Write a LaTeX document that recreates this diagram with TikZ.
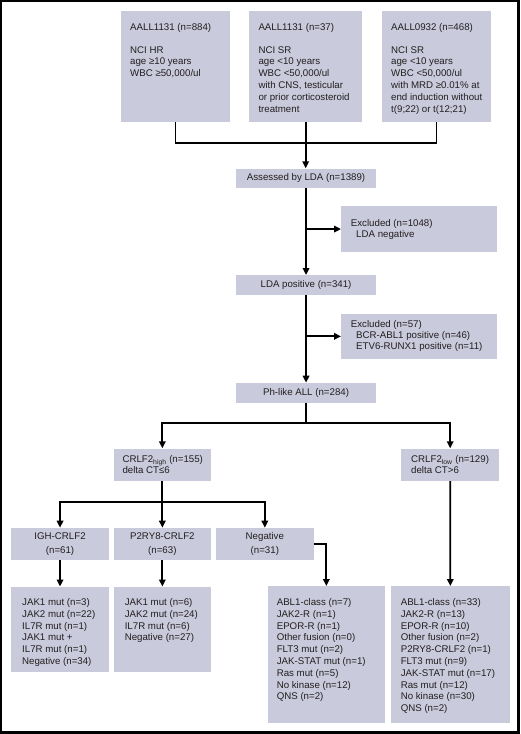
\documentclass[tikz,border=0pt]{standalone}
\usepackage{fontspec}
\setmainfont{Liberation Sans}
\usetikzlibrary{arrows.meta}
\definecolor{boxfill}{RGB}{201,202,219}
\definecolor{txtc}{RGB}{35,31,32}
\begin{document}
\begin{tikzpicture}[x=1pt,y=-1pt,
  box/.style={fill=boxfill, draw=none, inner sep=0pt, anchor=north west, text=txtc,
    font=\fontsize{9.7}{11.8}\selectfont, align=center},
  ctr2/.style={font=\fontsize{9.7}{13.7}\selectfont},
  txt/.style={inner sep=0pt, align=left, text=txtc, font=\fontsize{9.7}{11.8}\selectfont},
  txtex/.style={txt, font=\fontsize{9.7}{11}\selectfont},
  txtcr/.style={txt, font=\fontsize{9.7}{10.8}\selectfont},
  ln/.style={line width=1.8pt, draw=black},
  arr/.style={ln, -{Triangle[length=7pt,width=6.5pt]}}]
\useasboundingbox (0,0) rectangle (520,734);
\fill[white] (0,0) rectangle (520,734);
\draw[line width=2.5pt] (1,1) rectangle (518.5,732.5);

% top boxes
\node[box, minimum width=109.3pt, minimum height=111pt] (b1) at (120.7,10.7) {};
\node[box, minimum width=113pt, minimum height=111pt] (b2) at (249,10.7) {};
\node[box, minimum width=109.3pt, minimum height=111pt] (b3) at (381.7,10.7) {};
\node[txt, anchor=north west] (tb1) at ([shift={(9.3,12.7)}]b1.north west)
  {AALL1131 (n=884)\\[10.7pt]NCI HR\\age ≥10 years\\WBC ≥50,000/ul};
\node[txt, anchor=north west] (tb2) at ([shift={(9.3,12.7)}]b2.north west)
  {AALL1131 (n=37)\\[10.7pt]NCI SR\\age <10 years\\WBC <50,000/ul\\with CNS, testicular\\or prior corticosteroid\\treatment};
\node[txt, anchor=north west] (tb3) at ([shift={(9.3,12.7)}]b3.north west)
  {AALL0932 (n=468)\\[10.7pt]NCI SR\\age <10 years\\WBC <50,000/ul\\with MRD ≥0.01\% at\\end induction without\\t(9;22) or t(12;21)};

% main column
\node[box, minimum width=139.7pt, minimum height=19pt] (assessed) at (236,168.3) {Assessed by LDA (n=1389)};
\node[box, minimum width=155.7pt, minimum height=45.7pt] (ex1) at (341,206) {};
\node[txtex, anchor=west] (tex1) at ([xshift=9.7pt]ex1.west)
  {Excluded (n=1048)\\\hspace*{5.3pt}LDA negative};
\node[box, minimum width=139.7pt, minimum height=20pt] (ldapos) at (236,275) {LDA positive (n=341)};
\node[box, minimum width=155.7pt, minimum height=45.7pt] (ex2) at (341,313.3) {};
\node[txtex, anchor=west] (tex2) at ([xshift=9.7pt]ex2.west)
  {Excluded (n=57)\\\hspace*{5.3pt}BCR-ABL1 positive (n=46)\\\hspace*{5.3pt}ETV6-RUNX1 positive (n=11)};
\node[box, minimum width=139.7pt, minimum height=19.6pt] (ph) at (236,382.7) {Ph-like ALL (n=284)};

% CRLF2 level
\node[box, minimum width=97.7pt, minimum height=32.4pt] (high) at (113.3,448.3) {};
\node[txtcr, anchor=west] (thigh) at ([xshift=9pt]high.west)
  {CRLF2\textsubscript{high} (n=155)\\delta CT≤6};
\node[box, minimum width=98pt, minimum height=32.4pt] (low) at (401,448.3) {};
\node[txtcr, anchor=west] (tlow) at ([xshift=10pt]low.west)
  {CRLF2\textsubscript{low} (n=129)\\delta CT>6};

% fusion level
\node[box, ctr2, minimum width=98.3pt, minimum height=32.3pt] (igh) at (10.7,527.7) {IGH-CRLF2\\(n=61)};
\node[box, ctr2, minimum width=97.7pt, minimum height=32.3pt] (p2) at (113.3,527.7) {P2RY8-CRLF2\\(n=63)};
\node[box, ctr2, minimum width=97.3pt, minimum height=32.3pt] (neg) at (216,527.7) {Negative\\(n=31)};

% lower boxes
\node[box, minimum width=98.3pt, minimum height=85.2pt] (l1) at (10.7,586.5) {};
\node[box, minimum width=97.7pt, minimum height=85.2pt] (l2) at (113.3,586.5) {};
\node[box, minimum width=117.7pt, minimum height=136.7pt] (l3) at (267.3,586) {};
\node[box, minimum width=118.3pt, minimum height=136.7pt] (l4) at (391,586) {};
\node[txt, anchor=north west] (tl1) at ([shift={(11.3,11.8)}]l1.north west)
  {JAK1 mut (n=3)\\JAK2 mut (n=22)\\IL7R mut (n=1)\\JAK1 mut +\\IL7R mut (n=1)\\Negative (n=34)};
\node[txt, anchor=north west] (tl2) at ([shift={(11.3,11.8)}]l2.north west)
  {JAK1 mut (n=6)\\JAK2 mut (n=24)\\IL7R mut (n=6)\\Negative (n=27)};
\node[txt, anchor=north west] (tl3) at ([shift={(9.3,12.3)}]l3.north west)
  {ABL1-class (n=7)\\JAK2-R (n=1)\\EPOR-R (n=1)\\Other fusion (n=0)\\FLT3 mut (n=2)\\JAK-STAT mut (n=1)\\Ras mut (n=5)\\No kinase (n=12)\\QNS (n=2)};
\node[txt, anchor=north west] (tl4) at ([shift={(9.6,12.3)}]l4.north west)
  {ABL1-class (n=33)\\JAK2-R (n=13)\\EPOR-R (n=10)\\Other fusion (n=2)\\P2RY8-CRLF2 (n=1)\\FLT3 mut (n=9)\\JAK-STAT mut (n=17)\\Ras mut (n=12)\\No kinase (n=30)\\QNS (n=2)};

% connectors
\coordinate (j1) at (b2.south |- 0,142.7);
\draw[ln] (b1.south) |- (j1) -| (b3.south);
\draw[arr] (b2.south) -- (b2.south |- assessed.north);
\draw[arr] (assessed.south) -- (ldapos.north);
\coordinate (e1) at (assessed.south |- ex1.west);
\draw[arr] (e1) -- (ex1.west);
\draw[arr] (ldapos.south) -- (ph.north);
\coordinate (e2) at (ldapos.south |- ex2.west);
\draw[arr] (e2) -- (ex2.west);
\path (ph.south) ++(0,20) coordinate (j2);
\draw[ln] (ph.south) -- (j2);
\draw[arr] (j2) -| (high.north);
\draw[arr] (j2) -| (low.north);
\path (high.south) ++(0,21) coordinate (j3);
\draw[ln] (high.south) -- (j3);
\draw[arr] (j3) -| (igh.north);
\draw[arr] (j3) -- (p2.north);
\draw[arr] (j3) -| (neg.north);
\draw[arr] (igh.south) -- (l1.north);
\draw[arr] (p2.south) -- (l2.north);
\draw[arr] (neg.east) -| (l3.north);
\draw[arr] (low.south) -- (l4.north);
\end{tikzpicture}
\end{document}
